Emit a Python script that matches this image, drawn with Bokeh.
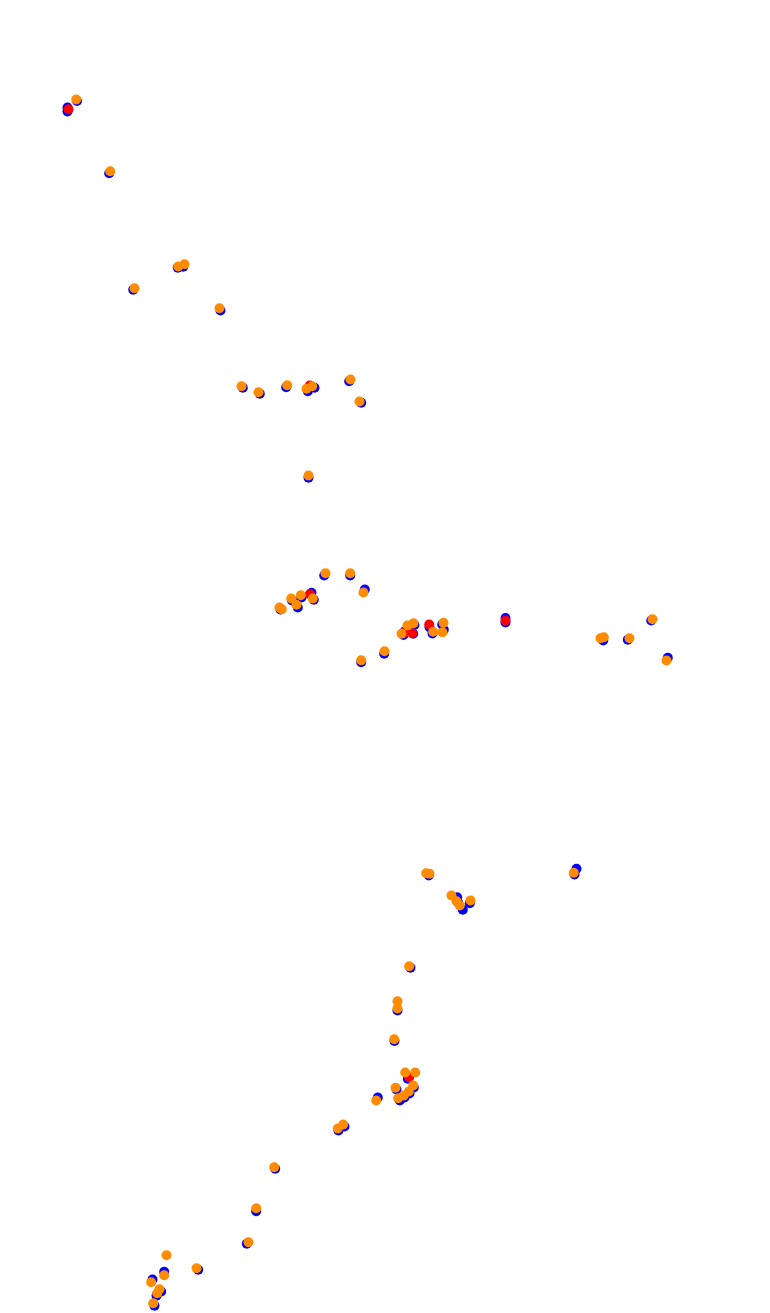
from bokeh.plotting import figure
from bokeh.models import Range1d
from bokeh.embed import file_html
from bokeh.resources import INLINE

# Series 1 (blue)
x_blue = [76.5, 67, 67, 108.7, 177.3, 182.7, 132.7, 220, 242.3, 259.3, 285.7, 307.3, 314, 348.7,
          360.7, 308, 323.7, 349.7, 364.3, 291.5, 301, 311, 313.3, 297.3, 280, 403, 404, 412.7,
          414, 429, 432, 441.7, 443.3, 383.7, 360.7, 505, 505, 602.7, 627.3, 650.7, 667.3, 428.3,
          456.7, 457.5, 462.3, 469.3, 576, 574, 410, 397, 394, 407.3, 413.3, 396, 409, 404, 399.3,
          377.3, 338, 344, 274.7, 255.7, 246.3, 197.7, 163.7, 152, 160.7, 156, 154]
y_blue = [100.5, 107, 111, 172.7, 267.3, 266.3, 289.3, 310, 387.3, 393.3, 386.7, 390.7, 387.3, 380.7,
          402.3, 477.3, 575, 575, 589, 600, 597, 592.3, 599.3, 607, 609, 634.5, 631, 633.3,
          624.5, 626.7, 633, 624, 629.3, 653.3, 661.7, 617.5, 622, 640, 639.3, 620, 657.3, 875,
          896.7, 902, 909.3, 902.7, 868.3, 874, 967.3, 1010, 1040.5, 1078.3, 1087, 1089, 1093, 1097, 1100,
          1097, 1130, 1126, 1168.3, 1210.7, 1243.3, 1269.3, 1271.3, 1279, 1291, 1295.3, 1305.3]

# Series 2 (red)
x_red = [68, 309.3, 309.3, 406.7, 411.7, 404, 428.7, 505, 408.7]
y_red = [108.7, 385, 593.7, 630, 632.7, 632, 624, 620, 1076.7]

# Series 3 (orange)
x_orange = [75.7, 109.7, 177.7, 184, 134, 219, 241, 258, 286.7, 306, 311.7, 350, 359, 308,
            325, 349.7, 363, 290.7, 300.3, 312.3, 296, 279, 281.3, 401, 407, 413, 432.7, 443,
            442, 384, 360.7, 600, 603.3, 629, 652, 666, 425.7, 429, 451, 456, 459.3, 470, 573.3,
            408.7, 397, 397, 393.7, 404.7, 414.7, 412.7, 395, 408.3, 403.3, 397.7, 375.7, 342.7,
            337.3, 273.7, 255.7, 248, 166, 196, 163.7, 150.7, 159, 156.7, 152.7]
y_orange = [99, 170.7, 266, 263.7, 287.7, 307.7, 385.7, 391.7, 384.7, 388.3, 385.7, 379, 401, 475,
            572.7, 572.7, 592, 598, 594.7, 598, 604.3, 607, 608.7, 633.3, 625, 622.7, 631.3, 622.3,
            631.7, 650.7, 659.7, 637.7, 636.7, 637.7, 618.7, 660, 872.7, 873.3, 895, 900.7, 905, 900, 872.3,
            965.7, 1000.7, 1008, 1038.7, 1072, 1072, 1085, 1087.3, 1091, 1095, 1097.7, 1100, 1124,
            1128, 1166.7, 1207.7, 1241.7, 1254.7, 1267.7, 1274.7, 1281.7, 1288.7, 1292.7, 1302.7]

W, H = 770, 1313
p = figure(width=W, height=H, output_backend="svg", toolbar_location=None,
           x_range=Range1d(0, W), y_range=Range1d(H, 0),
           min_border=0, min_border_left=0, min_border_right=0,
           min_border_top=0, min_border_bottom=0)
p.axis.visible = False
p.grid.visible = False
p.outline_line_color = None
p.background_fill_color = "white"
p.border_fill_color = "white"

p.scatter(x_blue, y_blue, size=10, fill_color="#0000ff", line_color=None)
p.scatter(x_red, y_red, size=10, fill_color="#ff0000", line_color=None)
p.scatter(x_orange, y_orange, size=10, fill_color="#ff8c00", line_color=None)

open("out.html", "w").write(file_html(p, INLINE))
